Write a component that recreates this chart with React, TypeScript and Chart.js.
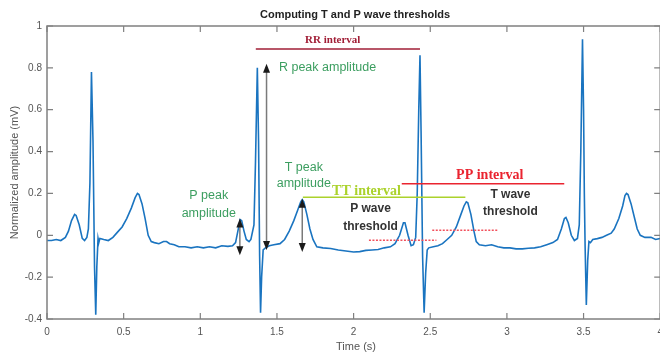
import React, { useEffect, useRef } from "react";
import { Chart, registerables } from "chart.js";
Chart.register(...registerables);

// ---- Data ----
const timeS = [
  0.0, 0.03, 0.06, 0.09, 0.12, 0.14, 0.16, 0.18, 0.19, 0.21, 0.23, 0.245, 0.26, 0.27, 0.28, 0.29, 0.30, 0.31, 0.318, 0.325, 0.333, 0.338, 0.345,
  0.37, 0.40, 0.43, 0.46, 0.49, 0.52, 0.55, 0.575, 0.59, 0.60, 0.62, 0.64, 0.66, 0.68, 0.70, 0.73, 0.76, 0.78, 0.80, 0.83, 0.86, 0.90, 0.94,
  0.98, 1.02, 1.06, 1.10, 1.14, 1.18, 1.21, 1.23, 1.245, 1.26, 1.27, 1.285, 1.30, 1.318, 1.33, 1.35, 1.36, 1.372, 1.38, 1.387, 1.393, 1.40,
  1.41, 1.425, 1.45, 1.48, 1.52, 1.55, 1.58, 1.61, 1.635, 1.655, 1.665, 1.675, 1.695, 1.715, 1.735, 1.76, 1.80, 1.85, 1.90, 1.95, 2.00, 2.04,
  2.08, 2.12, 2.16, 2.20, 2.24, 2.27, 2.30, 2.325, 2.335, 2.355, 2.375, 2.39, 2.405, 2.415, 2.425, 2.433, 2.44, 2.45, 2.46, 2.47, 2.48, 2.49,
  2.52, 2.55, 2.58, 2.61, 2.64, 2.67, 2.70, 2.72, 2.735, 2.745, 2.765, 2.785, 2.80, 2.82, 2.86, 2.90, 2.94, 2.98, 3.02, 3.06, 3.10, 3.14,
  3.18, 3.22, 3.26, 3.30, 3.33, 3.355, 3.375, 3.385, 3.40, 3.42, 3.44, 3.46, 3.472, 3.482, 3.493, 3.50, 3.505, 3.51, 3.518, 3.527, 3.535,
  3.545, 3.56, 3.59, 3.62, 3.65, 3.68, 3.70, 3.73, 3.755, 3.77, 3.78, 3.79, 3.81, 3.83, 3.85, 3.87, 3.90, 3.94, 3.97, 4.0,
];
const amplitude = [
  -0.025, -0.025, -0.02, -0.025, -0.01, 0.02, 0.07, 0.1, 0.095, 0.05, -0.015, -0.025, -0.01, 0.03, 0.25, 0.78, 0.45, -0.15, -0.38, -0.15, -0.015, -0.035, -0.015,
  -0.02, -0.025, -0.01, 0.015, 0.04, 0.08, 0.13, 0.18, 0.2, 0.195, 0.15, 0.08, 0.0, -0.03, -0.035, -0.04, -0.03, -0.03, -0.04, -0.045, -0.055, -0.055, -0.06,
  -0.055, -0.06, -0.055, -0.06, -0.05, -0.053, -0.05, -0.035, 0.02, 0.075, 0.07, 0.02, -0.02, -0.03, -0.02, 0.05, 0.35, 0.8, 0.45, -0.1, -0.37, -0.2,
  -0.07, -0.06, -0.05, -0.045, -0.04, -0.02, 0.02, 0.07, 0.12, 0.16, 0.17, 0.16, 0.1, 0.03, -0.02, -0.055, -0.06, -0.063, -0.07, -0.075, -0.08, -0.078,
  -0.072, -0.07, -0.068, -0.06, -0.055, -0.04, 0.0, 0.06, 0.06, 0.0, -0.05, -0.045, -0.01, 0.2, 0.6, 0.86, 0.5, -0.1, -0.37, -0.18, -0.07, -0.06,
  -0.055, -0.05, -0.04, -0.02, 0.0, 0.04, 0.1, 0.14, 0.16, 0.155, 0.1, 0.02, -0.03, -0.045, -0.05, -0.045, -0.055, -0.06, -0.06, -0.065, -0.065, -0.062,
  -0.06, -0.055, -0.045, -0.035, -0.02, 0.03, 0.08, 0.085, 0.06, 0.0, -0.025, -0.015, 0.05, 0.4, 0.937, 0.6, 0.2, -0.05, -0.333, -0.12, -0.03,
  -0.035, -0.02, -0.016, -0.01, 0.0, 0.01, 0.03, 0.08, 0.14, 0.19, 0.2, 0.195, 0.15, 0.09, 0.03, 0.0, -0.01, -0.01, -0.02, -0.015,
];

const xTicks = [0, 0.5, 1, 1.5, 2, 2.5, 3, 3.5, 4];
const xTickLabels = ["0", "0.5", "1", "1.5", "2", "2.5", "3", "3.5", "4"];
const yTicks = [-0.4, -0.2, 0, 0.2, 0.4, 0.6, 0.8, 1];
const yTickLabels = ["-0.4", "-0.2", "0", "0.2", "0.4", "0.6", "0.8", "1"];

const chartTitle = "Computing T and P wave thresholds";
const xTitle = "Time (s)";
const yTitle = "Normalized amplitude (mV)";

// interval annotations (data units)
const intervalNames = ["RR interval", "TT interval", "PP interval"];
const intervalStart = [1.362, 1.669, 2.314];
const intervalEnd = [2.433, 2.729, 3.374];
const intervalLevel = [0.89, 0.182, 0.246];
const intervalTextX = [1.864, 2.084, 2.888];
const intervalTextY = [0.932, 0.211, 0.286];
const intervalColors = ["#a11e36", "#abd22c", "#ea2430"];
const intervalFonts = ["bold 11px 'Liberation Serif'", "bold 14px 'Liberation Serif'", "bold 14px 'Liberation Serif'"];

// amplitude arrows (data units)
const arrowX = [1.258, 1.432, 1.665];
const arrowTop = [0.08, 0.82, 0.175];
const arrowBottom = [-0.095, -0.07, -0.08];

// threshold dotted lines
const thresholdStart = [2.1, 2.513];
const thresholdEnd = [2.54, 2.946];
const thresholdLevel = [-0.024, 0.024];

// text labels
const greenLabels = ["R peak amplitude", "P peak", "amplitude", "T peak", "amplitude"];
const greenX = [1.513, 1.055, 1.055, 1.675, 1.675];
const greenY = [0.801, 0.19, 0.105, 0.326, 0.246];
const greenAlign = ["left", "center", "center", "center", "center"];
const darkLabels = ["P wave", "threshold", "T wave", "threshold"];
const darkX = [2.11, 2.11, 3.023, 3.023];
const darkY = [0.127, 0.04, 0.195, 0.111];

const W = 670;
const H = 358;
const AREA_LEFT = 47;
const AREA_TOP = 26;
const AREA_RIGHT = 663.6;
const AREA_BOTTOM = 319;

function drawArrowHead(ctx: CanvasRenderingContext2D, x: number, y: number, dir: number) {
  ctx.beginPath();
  ctx.moveTo(x, y);
  ctx.lineTo(x - 3.5, y + dir * 9);
  ctx.lineTo(x + 3.5, y + dir * 9);
  ctx.closePath();
  ctx.fill();
}

const decorPlugin = {
  id: "decor",
  afterDatasetsDraw(chart: any) {
    const ctx: CanvasRenderingContext2D = chart.ctx;
    const xs = chart.scales.x;
    const ys = chart.scales.y;
    const px = (v: number) => xs.getPixelForValue(v);
    const py = (v: number) => ys.getPixelForValue(v);
    ctx.save();
    // threshold dotted lines
    ctx.strokeStyle = "#f2505c";
    ctx.lineWidth = 1.5;
    ctx.setLineDash([2, 1.5]);
    thresholdLevel.forEach((lv, i) => {
      ctx.beginPath();
      ctx.moveTo(px(thresholdStart[i]), py(lv));
      ctx.lineTo(px(thresholdEnd[i]), py(lv));
      ctx.stroke();
    });
    ctx.setLineDash([]);
    // interval lines
    intervalNames.forEach((name, i) => {
      ctx.strokeStyle = intervalColors[i];
      ctx.lineWidth = 1.5;
      ctx.beginPath();
      ctx.moveTo(px(intervalStart[i]), py(intervalLevel[i]));
      ctx.lineTo(px(intervalEnd[i]), py(intervalLevel[i]));
      ctx.stroke();
      ctx.fillStyle = intervalColors[i];
      ctx.font = intervalFonts[i];
      ctx.textAlign = "center";
      ctx.textBaseline = "middle";
      ctx.fillText(name, px(intervalTextX[i]), py(intervalTextY[i]));
    });
    // arrows
    arrowX.forEach((ax, i) => {
      const x = px(ax);
      const t = py(arrowTop[i]);
      const b = py(arrowBottom[i]);
      ctx.strokeStyle = "#7a7a7a";
      ctx.lineWidth = 1.5;
      ctx.beginPath();
      ctx.moveTo(x, t + 4);
      ctx.lineTo(x, b - 4);
      ctx.stroke();
      ctx.fillStyle = "#1a1a1a";
      drawArrowHead(ctx, x, t, 1);
      drawArrowHead(ctx, x, b, -1);
    });
    // green texts
    ctx.fillStyle = "#3c9e60";
    ctx.font = "12.5px 'Liberation Sans'";
    ctx.textBaseline = "middle";
    greenLabels.forEach((s, i) => {
      ctx.textAlign = greenAlign[i] as CanvasTextAlign;
      ctx.fillText(s, px(greenX[i]), py(greenY[i]));
    });
    // dark texts
    ctx.fillStyle = "#333333";
    ctx.font = "bold 12px 'Liberation Sans'";
    ctx.textAlign = "center";
    darkLabels.forEach((s, i) => {
      ctx.fillText(s, px(darkX[i]), py(darkY[i]));
    });
    ctx.restore();
  },
  afterDraw(chart: any) {
    const ctx: CanvasRenderingContext2D = chart.ctx;
    const a = chart.chartArea;
    const xs = chart.scales.x;
    const ys = chart.scales.y;
    ctx.save();
    ctx.strokeStyle = "#808080";
    ctx.lineWidth = 1.5;
    ctx.strokeRect(a.left, a.top, a.right - a.left, a.bottom - a.top);
    ctx.lineWidth = 1.2;
    const tl = 6;
    ctx.beginPath();
    xTicks.forEach((v) => {
      const x = xs.getPixelForValue(v);
      ctx.moveTo(x, a.bottom);
      ctx.lineTo(x, a.bottom - tl);
      ctx.moveTo(x, a.top);
      ctx.lineTo(x, a.top + tl);
    });
    yTicks.forEach((v) => {
      const y = ys.getPixelForValue(v);
      ctx.moveTo(a.left, y);
      ctx.lineTo(a.left + tl, y);
      ctx.moveTo(a.right, y);
      ctx.lineTo(a.right - tl, y);
    });
    ctx.stroke();
    // titles
    ctx.fillStyle = "#222222";
    ctx.font = "bold 11px 'Liberation Sans'";
    ctx.textAlign = "center";
    ctx.textBaseline = "middle";
    ctx.fillText(chartTitle, 355, 15);
    ctx.fillStyle = "#555555";
    ctx.font = "11px 'Liberation Sans'";
    ctx.fillText(xTitle, 356, 347);
    ctx.translate(15, (a.top + a.bottom) / 2);
    ctx.rotate(-Math.PI / 2);
    ctx.fillText(yTitle, 0, 0);
    ctx.restore();
  },
};

export default function App() {
  const ref = useRef<HTMLCanvasElement | null>(null);
  useEffect(() => {
    document.body.style.margin = "0";
    document.body.style.overflow = "hidden";
    document.documentElement.style.overflow = "hidden";
    if (!ref.current) return;
    const points = timeS.map((t, i) => ({ x: t, y: amplitude[i] }));
    const chart = new Chart(ref.current, {
      type: "line",
      data: {
        datasets: [
          {
            data: points,
            borderColor: "#1a74c0",
            borderWidth: 1.6,
            pointRadius: 0,
            tension: 0,
            fill: false,
          },
        ],
      },
      options: {
        responsive: false,
        animation: false,
        devicePixelRatio: 1,
        layout: { padding: { left: 0, top: AREA_TOP, right: W - AREA_RIGHT, bottom: 0 } },
        plugins: { legend: { display: false }, tooltip: { enabled: false }, title: { display: false } },
        scales: {
          x: {
            type: "linear",
            min: 0,
            max: 4,
            grid: { display: false, drawTicks: false },
            border: { display: false },
            afterBuildTicks: (s: any) => {
              s.ticks = xTicks.map((v) => ({ value: v }));
            },
            afterFit: (s: any) => {
              s.height = H - AREA_BOTTOM;
            },
            ticks: {
              padding: 7,
              color: "#555555",
              font: { family: "'Liberation Sans'", size: 10 },
              maxRotation: 0,
              autoSkip: false,
              callback: (v: any) => xTickLabels[xTicks.indexOf(Number(v))] ?? "",
            },
          },
          y: {
            type: "linear",
            min: -0.4,
            max: 1,
            grid: { display: false, drawTicks: false },
            border: { display: false },
            afterBuildTicks: (s: any) => {
              s.ticks = yTicks.map((v) => ({ value: v }));
            },
            afterFit: (s: any) => {
              s.width = AREA_LEFT;
            },
            ticks: {
              padding: 5,
              color: "#555555",
              font: { family: "'Liberation Sans'", size: 10 },
              autoSkip: false,
              callback: (v: any) => {
                const idx = yTicks.findIndex((t) => Math.abs(t - Number(v)) < 1e-6);
                return idx >= 0 ? yTickLabels[idx] : "";
              },
            },
          },
        },
      },
      plugins: [decorPlugin],
    });
    return () => chart.destroy();
  }, []);
  return (
    <div style={{ position: "absolute", left: 0, top: 0, width: W, height: H, background: "#fff" }}>
      <canvas ref={ref} width={W} height={H} style={{ width: W, height: H, display: "block" }} />
    </div>
  );
}
